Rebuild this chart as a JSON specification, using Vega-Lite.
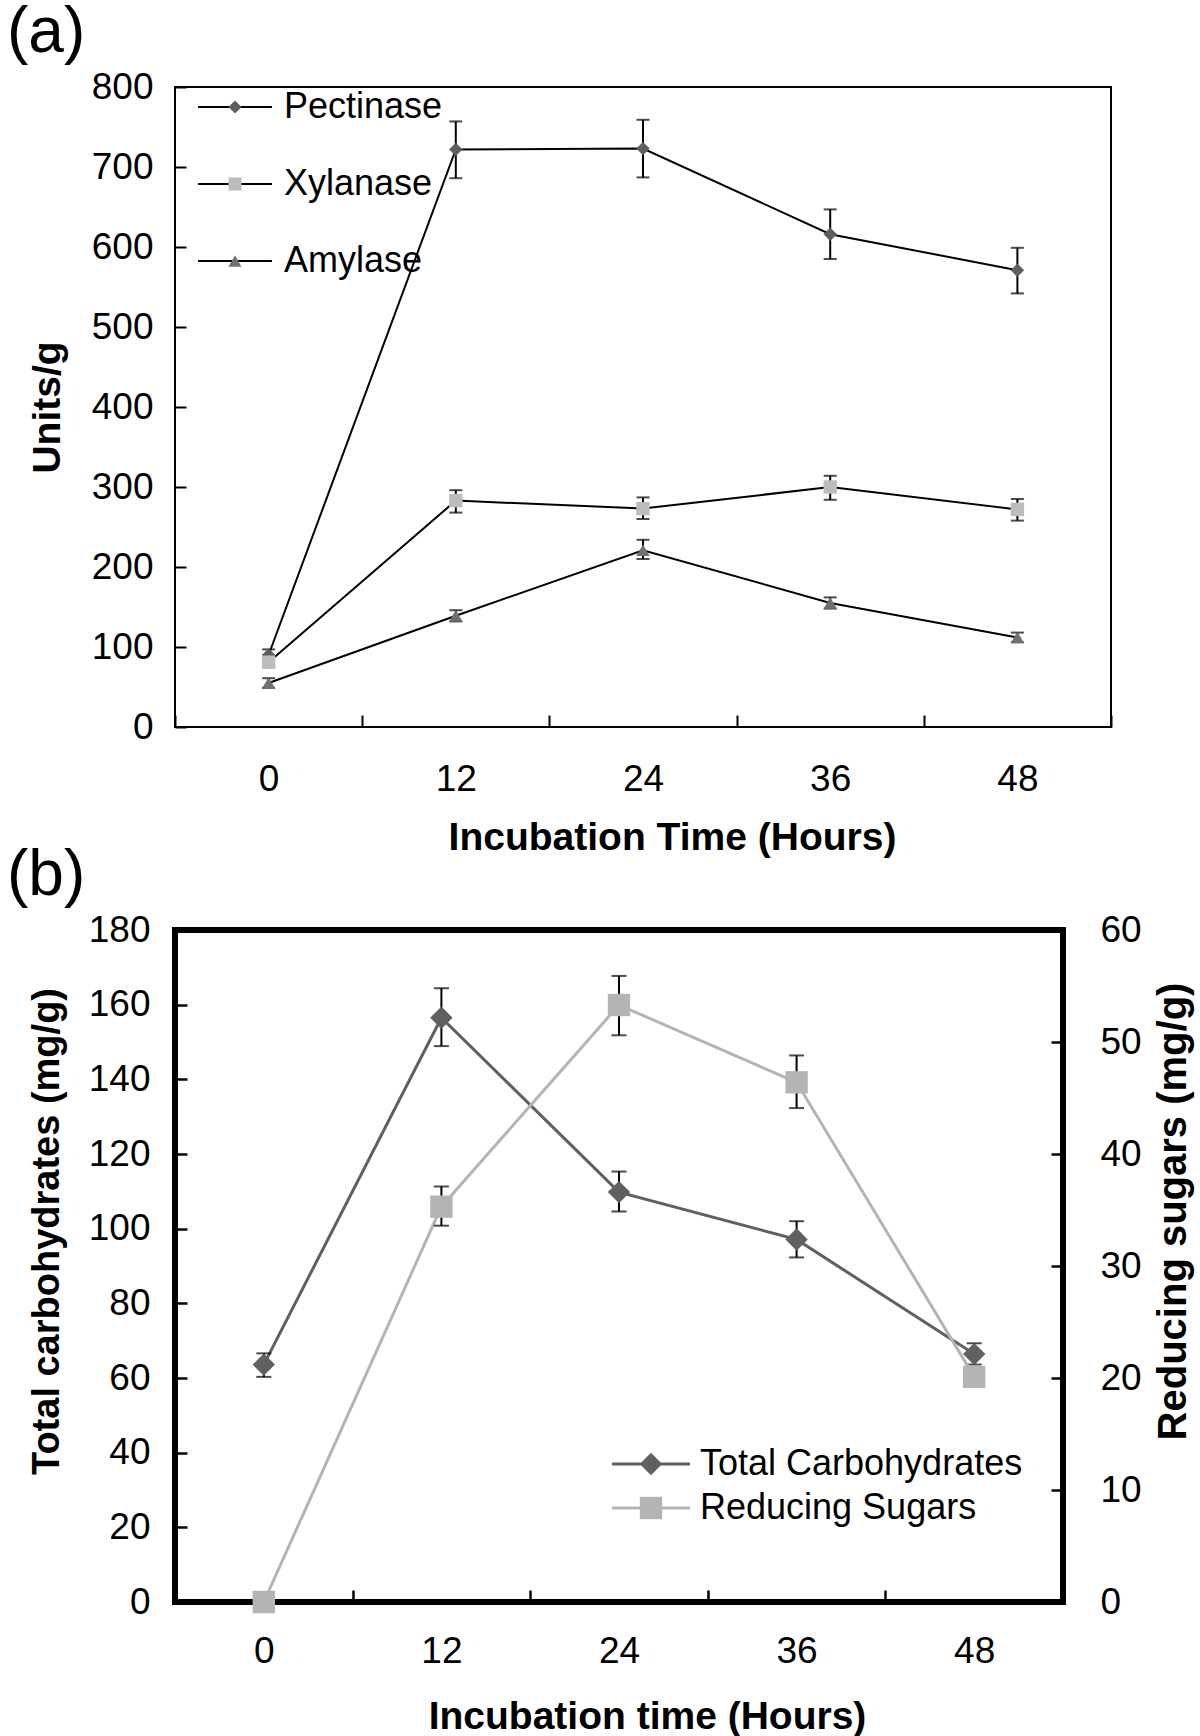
{
  "$schema": "https://vega.github.io/schema/vega-lite/v6.json",
  "padding": {"left": 4, "top": 0, "right": 0, "bottom": 0},
  "background": "white",
  "spacing": -17,
  "resolve": {"scale": {"color": "independent", "shape": "independent", "stroke": "independent"}, "legend": {"color": "independent", "shape": "independent", "stroke": "independent"}},
  "config": {
    "font": "Liberation Sans",
    "axis": {"grid": false, "domain": false, "labelFont": "Liberation Sans", "labelFontSize": 37, "labelColor": "black", "titleFont": "Liberation Sans", "titleFontSize": 39, "titleFontWeight": "bold", "titleColor": "black", "tickColor": "black"},
    "title": {"fontSize": 64, "fontWeight": "normal", "anchor": "start", "frame": "group", "color": "black", "font": "Liberation Sans", "offset": 3},
    "legend": {"labelFont": "Liberation Sans", "labelColor": "black", "labelLimit": 600}
  },
  "vconcat": [
    {
      "width": 936,
      "height": 640,
      "view": {"stroke": "black", "strokeWidth": 2},
      "title": {"text": "(a)", "dx": -168},
      "data": {"values": [
        {"time": 0, "enzyme": "Pectinase", "value": 90, "lo": 84, "hi": 97},
        {"time": 12, "enzyme": "Pectinase", "value": 722, "lo": 686, "hi": 757},
        {"time": 24, "enzyme": "Pectinase", "value": 723, "lo": 687, "hi": 759},
        {"time": 36, "enzyme": "Pectinase", "value": 616, "lo": 585, "hi": 647},
        {"time": 48, "enzyme": "Pectinase", "value": 571, "lo": 542, "hi": 599},
        {"time": 0, "enzyme": "Xylanase", "value": 81, "lo": 75, "hi": 88},
        {"time": 12, "enzyme": "Xylanase", "value": 283, "lo": 268, "hi": 296},
        {"time": 24, "enzyme": "Xylanase", "value": 273, "lo": 260, "hi": 287},
        {"time": 36, "enzyme": "Xylanase", "value": 300, "lo": 284, "hi": 314},
        {"time": 48, "enzyme": "Xylanase", "value": 272, "lo": 258, "hi": 285},
        {"time": 0, "enzyme": "Amylase", "value": 55, "lo": 49, "hi": 61},
        {"time": 12, "enzyme": "Amylase", "value": 139, "lo": 132, "hi": 146},
        {"time": 24, "enzyme": "Amylase", "value": 221, "lo": 210, "hi": 234},
        {"time": 36, "enzyme": "Amylase", "value": 155, "lo": 148, "hi": 162},
        {"time": 48, "enzyme": "Amylase", "value": 112, "lo": 106, "hi": 118}
      ]},
      "encoding": {
        "x": {"field": "time", "type": "ordinal", "title": "Incubation Time (Hours)",
              "scale": {"type": "band", "paddingInner": 0, "paddingOuter": 0},
              "axis": {"labelAngle": 0, "tickBand": "extent", "tickSize": -12, "tickWidth": 2, "labelPadding": 46, "titlePadding": 21, "titleX": 497}},
        "y": {"field": "value", "type": "quantitative", "title": "Units/g",
              "scale": {"domain": [0, 800], "nice": false},
              "axis": {"orient": "left", "values": [0, 100, 200, 300, 400, 500, 600, 700, 800], "tickSize": -11, "tickWidth": 2, "labelPadding": 33, "titlePadding": 24}}
      },
      "layer": [
        {"mark": {"type": "line", "strokeWidth": 2},
         "encoding": {"stroke": {"field": "enzyme", "type": "nominal", "sort": null,
                                 "scale": {"range": ["#000000", "#000000", "#000000"]},
                                 "legend": {"orient": "none", "legendX": 42, "legendY": 2, "title": null, "symbolType": "M-5.67,0H5.67", "symbolSize": 170, "symbolStrokeWidth": 2, "labelFontSize": 36, "labelOffset": 31, "rowPadding": 41, "padding": 0}}}},
        {"mark": {"type": "rule", "color": "black", "strokeWidth": 2},
         "encoding": {"y": {"field": "lo", "type": "quantitative", "title": "Units/g", "axis": {"orient": "left", "values": [0, 100, 200, 300, 400, 500, 600, 700, 800], "tickSize": -11, "tickWidth": 2, "labelPadding": 33, "titlePadding": 24}}, "y2": {"field": "hi"}}},
        {"mark": {"type": "tick", "color": "black", "size": 13, "thickness": 2},
         "encoding": {"y": {"field": "lo", "type": "quantitative", "title": "Units/g", "axis": {"orient": "left", "values": [0, 100, 200, 300, 400, 500, 600, 700, 800], "tickSize": -11, "tickWidth": 2, "labelPadding": 33, "titlePadding": 24}}}},
        {"mark": {"type": "tick", "color": "black", "size": 13, "thickness": 2},
         "encoding": {"y": {"field": "hi", "type": "quantitative", "title": "Units/g", "axis": {"orient": "left", "values": [0, 100, 200, 300, 400, 500, 600, 700, 800], "tickSize": -11, "tickWidth": 2, "labelPadding": 33, "titlePadding": 24}}}},
        {"mark": {"type": "point", "filled": true, "opacity": 1, "size": 180},
         "encoding": {
           "color": {"field": "enzyme", "type": "nominal",
                     "scale": {"domain": ["Pectinase", "Xylanase", "Amylase"], "range": ["#5e5e5e", "#bcbcbc", "#707070"]},
                     "legend": {"orient": "none", "legendX": 42, "legendY": 2, "title": null, "symbolSize": 170, "symbolStrokeWidth": 0, "labelFontSize": 36, "labelOpacity": 0, "rowPadding": 41, "padding": 0}},
           "shape": {"field": "enzyme", "type": "nominal",
                     "scale": {"domain": ["Pectinase", "Xylanase", "Amylase"], "range": ["diamond", "square", "triangle-up"]},
                     "legend": {"orient": "none", "legendX": 42, "legendY": 2, "title": null, "symbolSize": 170, "symbolStrokeWidth": 0, "labelFontSize": 36, "labelOpacity": 0, "rowPadding": 41, "padding": 0}}
         }}
      ]
    },
    {
      "width": 888,
      "height": 672,
      "view": {"stroke": "black", "strokeWidth": 6},
      "title": {"text": "(b)", "dx": -168},
      "data": {"values": [
        {"time": 0, "series": "Total Carbohydrates", "value": 63.6, "lo": 60.3, "hi": 66.6},
        {"time": 12, "series": "Total Carbohydrates", "value": 156.5, "lo": 148.9, "hi": 164.4},
        {"time": 24, "series": "Total Carbohydrates", "value": 109.8, "lo": 104.6, "hi": 115.3},
        {"time": 36, "series": "Total Carbohydrates", "value": 97.1, "lo": 92.3, "hi": 102},
        {"time": 48, "series": "Total Carbohydrates", "value": 66.4, "lo": 63.6, "hi": 69.3},
        {"time": 0, "series": "Reducing Sugars", "value": 0, "lo": 0, "hi": 0},
        {"time": 12, "series": "Reducing Sugars", "value": 35.3, "lo": 33.6, "hi": 37.1},
        {"time": 24, "series": "Reducing Sugars", "value": 53.3, "lo": 50.6, "hi": 55.9},
        {"time": 36, "series": "Reducing Sugars", "value": 46.4, "lo": 44.1, "hi": 48.8},
        {"time": 48, "series": "Reducing Sugars", "value": 20.1, "lo": 19.3, "hi": 20.9}
      ]},
      "encoding": {
        "x": {"field": "time", "type": "ordinal", "title": "Incubation time (Hours)",
              "scale": {"type": "band", "paddingInner": 0, "paddingOuter": 0},
              "axis": {"labelAngle": 0, "tickBand": "extent", "tickSize": -12, "tickWidth": 2.5, "labelPadding": 43, "titlePadding": 28, "titleX": 472}}
      },
      "resolve": {"scale": {"y": "independent"}},
      "layer": [
        {
          "transform": [{"filter": "datum.series === 'Total Carbohydrates'"}],
          "encoding": {
            "y": {"field": "value", "type": "quantitative", "title": "Total carbohydrates (mg/g)",
                  "scale": {"domain": [0, 180], "nice": false},
                  "axis": {"orient": "left", "values": [0, 20, 40, 60, 80, 100, 120, 140, 160, 180], "tickSize": -12, "tickWidth": 2.5, "labelPadding": 37, "titlePadding": 22, "titleY": 301, "titleFontSize": 38}}
          },
          "layer": [
            {"mark": {"type": "line", "strokeWidth": 3},
             "encoding": {"stroke": {"field": "series", "type": "nominal", "sort": null,
                                     "scale": {"range": ["#606060", "#b4b4b4"]},
                                     "legend": {"orient": "none", "legendX": 458, "legendY": 516, "title": null, "symbolType": "M-3.49,0H3.49", "symbolSize": 500, "symbolStrokeWidth": 3, "labelFontSize": 36, "labelOffset": 31, "rowPadding": 8, "padding": 0}}}},
            {"mark": {"type": "rule", "color": "black", "strokeWidth": 2},
             "encoding": {"y": {"field": "lo", "type": "quantitative", "title": "Total carbohydrates (mg/g)", "axis": {"orient": "left", "values": [0, 20, 40, 60, 80, 100, 120, 140, 160, 180], "tickSize": -12, "tickWidth": 2.5, "labelPadding": 37, "titlePadding": 22, "titleY": 301, "titleFontSize": 38}}, "y2": {"field": "hi"}}},
            {"mark": {"type": "tick", "color": "black", "size": 15, "thickness": 2},
             "encoding": {"y": {"field": "lo", "type": "quantitative", "title": "Total carbohydrates (mg/g)", "axis": {"orient": "left", "values": [0, 20, 40, 60, 80, 100, 120, 140, 160, 180], "tickSize": -12, "tickWidth": 2.5, "labelPadding": 37, "titlePadding": 22, "titleY": 301, "titleFontSize": 38}}}},
            {"mark": {"type": "tick", "color": "black", "size": 15, "thickness": 2},
             "encoding": {"y": {"field": "hi", "type": "quantitative", "title": "Total carbohydrates (mg/g)", "axis": {"orient": "left", "values": [0, 20, 40, 60, 80, 100, 120, 140, 160, 180], "tickSize": -12, "tickWidth": 2.5, "labelPadding": 37, "titlePadding": 22, "titleY": 301, "titleFontSize": 38}}}},
            {"mark": {"type": "point", "filled": true, "opacity": 1, "size": 500},
             "encoding": {
               "color": {"field": "series", "type": "nominal",
                         "scale": {"domain": ["Total Carbohydrates", "Reducing Sugars"], "range": ["#606060", "#b4b4b4"]},
                         "legend": {"orient": "none", "legendX": 458, "legendY": 516, "title": null, "symbolSize": 500, "symbolStrokeWidth": 0, "labelFontSize": 36, "labelOpacity": 0, "rowPadding": 8, "padding": 0}},
               "shape": {"field": "series", "type": "nominal",
                         "scale": {"domain": ["Total Carbohydrates", "Reducing Sugars"], "range": ["diamond", "square"]},
                         "legend": {"orient": "none", "legendX": 458, "legendY": 516, "title": null, "symbolSize": 500, "symbolStrokeWidth": 0, "labelFontSize": 36, "labelOpacity": 0, "rowPadding": 8, "padding": 0}}
             }}
          ]
        },
        {
          "transform": [{"filter": "datum.series === 'Reducing Sugars'"}],
          "encoding": {
            "y": {"field": "value", "type": "quantitative", "title": "Reducing sugars (mg/g)",
                  "scale": {"domain": [0, 60], "nice": false},
                  "axis": {"orient": "right", "values": [0, 10, 20, 30, 40, 50, 60], "tickSize": -12, "tickWidth": 2.5, "labelPadding": 49, "titlePadding": 12, "titleAngle": 270, "titleBaseline": "top", "titleY": 281, "titleFontSize": 40}}
          },
          "layer": [
            {"mark": {"type": "line", "strokeWidth": 3},
             "encoding": {"stroke": {"field": "series", "type": "nominal", "sort": null,
                                     "scale": {"range": ["#606060", "#b4b4b4"]},
                                     "legend": {"orient": "none", "legendX": 458, "legendY": 516, "title": null, "symbolType": "M-3.49,0H3.49", "symbolSize": 500, "symbolStrokeWidth": 3, "labelFontSize": 36, "labelOffset": 31, "rowPadding": 8, "padding": 0}}}},
            {"mark": {"type": "rule", "color": "black", "strokeWidth": 2},
             "encoding": {"y": {"field": "lo", "type": "quantitative", "title": "Reducing sugars (mg/g)", "axis": {"orient": "right", "values": [0, 10, 20, 30, 40, 50, 60], "tickSize": -12, "tickWidth": 2.5, "labelPadding": 49, "titlePadding": 12, "titleAngle": 270, "titleBaseline": "top", "titleY": 281, "titleFontSize": 40}}, "y2": {"field": "hi"}}},
            {"mark": {"type": "tick", "color": "black", "size": 15, "thickness": 2},
             "encoding": {"y": {"field": "lo", "type": "quantitative", "title": "Reducing sugars (mg/g)", "axis": {"orient": "right", "values": [0, 10, 20, 30, 40, 50, 60], "tickSize": -12, "tickWidth": 2.5, "labelPadding": 49, "titlePadding": 12, "titleAngle": 270, "titleBaseline": "top", "titleY": 281, "titleFontSize": 40}}}},
            {"mark": {"type": "tick", "color": "black", "size": 15, "thickness": 2},
             "encoding": {"y": {"field": "hi", "type": "quantitative", "title": "Reducing sugars (mg/g)", "axis": {"orient": "right", "values": [0, 10, 20, 30, 40, 50, 60], "tickSize": -12, "tickWidth": 2.5, "labelPadding": 49, "titlePadding": 12, "titleAngle": 270, "titleBaseline": "top", "titleY": 281, "titleFontSize": 40}}}},
            {"mark": {"type": "point", "filled": true, "opacity": 1, "size": 500},
             "encoding": {
               "color": {"field": "series", "type": "nominal",
                         "scale": {"domain": ["Total Carbohydrates", "Reducing Sugars"], "range": ["#606060", "#b4b4b4"]},
                         "legend": {"orient": "none", "legendX": 458, "legendY": 516, "title": null, "symbolSize": 500, "symbolStrokeWidth": 0, "labelFontSize": 36, "labelOpacity": 0, "rowPadding": 8, "padding": 0}},
               "shape": {"field": "series", "type": "nominal",
                         "scale": {"domain": ["Total Carbohydrates", "Reducing Sugars"], "range": ["diamond", "square"]},
                         "legend": {"orient": "none", "legendX": 458, "legendY": 516, "title": null, "symbolSize": 500, "symbolStrokeWidth": 0, "labelFontSize": 36, "labelOpacity": 0, "rowPadding": 8, "padding": 0}}
             }}
          ]
        }
      ]
    }
  ]
}
